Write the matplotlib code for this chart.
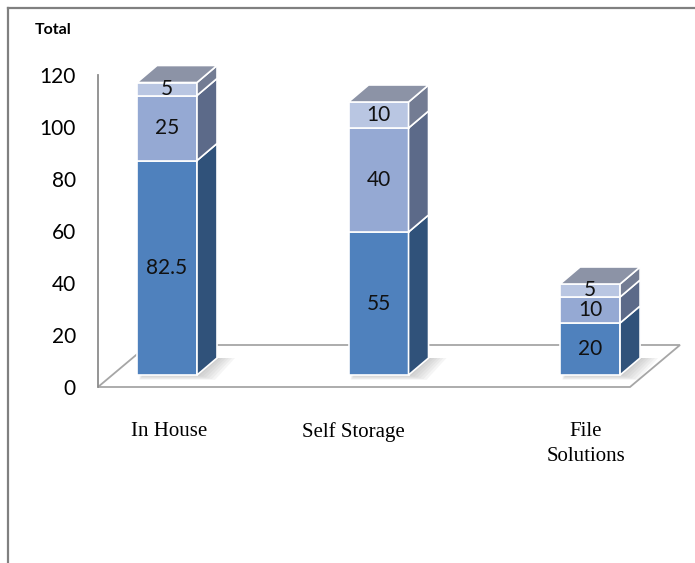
import matplotlib
matplotlib.use("Agg")
import matplotlib.pyplot as plt
from matplotlib.patches import Polygon, Rectangle
from matplotlib.lines import Line2D

# data
categories = ["In House", "Self Storage", "File\nSolutions"]
seg_bottom = [82.5, 55, 20]
seg_middle = [25, 40, 10]
seg_top = [5, 10, 5]
yticks = [0, 20, 40, 60, 80, 100, 120]

series = [seg_bottom, seg_middle, seg_top]
front_cols = ["#4F81BD", "#95A9D3", "#B9C6E2"]
side_cols = ["#30527A", "#5C6A89", "#737C93"]
top_col = "#8C93A6"

# geometry of the fake 3d look (in data units)
PX_X = 211.5          # pixels per category unit
PX_Y = 2.6            # pixels per value unit
FLOOR_DX, FLOOR_DY = 50 / PX_X, 42 / PX_Y
FRONT_DX, FRONT_DY = 14 / PX_X, 12 / PX_Y
BAR_DX, BAR_DY = 20 / PX_X, 17 / PX_Y
HALF_W = 30 / PX_X
label_shift = [0.01, -0.12, -0.02]

fig = plt.figure(figsize=(6.95, 5.63), dpi=100)
ax = fig.add_axes([98 / 695, 176 / 563, 532 / 695, 312 / 563])
x_lo, x_hi = -0.26, 2.255
ax.set_xlim(x_lo, x_hi)
ax.set_ylim(0, 120)

# floor
floor = Polygon([(x_lo, 0), (x_hi, 0), (x_hi + FLOOR_DX, FLOOR_DY),
                 (x_lo + FLOOR_DX, FLOOR_DY)], closed=True,
                facecolor="white", edgecolor="#A6A6A6", lw=1.3,
                clip_on=False, zorder=1)
ax.add_patch(floor)

for i, cat in enumerate(categories):
    x0 = i - HALF_W + FRONT_DX
    x1 = i + HALF_W + FRONT_DX
    base = FRONT_DY

    # soft shadow on the floor
    for k in range(6):
        ex = (k + 1) * 3 / PX_X
        ey = (k + 1) * 0.8 / PX_Y
        sh = Polygon([(x0 + 0.01, base - ey), (x1 + ex, base - ey),
                      (x1 + BAR_DX + ex, base + BAR_DY),
                      (x0 + BAR_DX, base + BAR_DY)], closed=True,
                     facecolor="#7F7F7F", edgecolor="none", alpha=0.07,
                     zorder=2, clip_on=False)
        ax.add_patch(sh)

    bottom = 0
    for s, vals in enumerate(series):
        v = vals[i]
        y0 = base + bottom
        y1 = y0 + v
        ax.add_patch(Rectangle((x0, y0), x1 - x0, v, facecolor=front_cols[s],
                               edgecolor="white", lw=1.2, zorder=3,
                               clip_on=False))
        ax.add_patch(Polygon([(x1, y0), (x1 + BAR_DX, y0 + BAR_DY),
                              (x1 + BAR_DX, y1 + BAR_DY), (x1, y1)],
                             closed=True, facecolor=side_cols[s],
                             edgecolor="white", lw=1.2, zorder=3,
                             clip_on=False))
        ax.text((x0 + x1) / 2, (y0 + y1) / 2, f"{v:g}", ha="center",
                va="center", fontsize=15, family="Lato", color="#111111",
                zorder=5)
        bottom += v

    ytop = base + bottom
    ax.add_patch(Polygon([(x0, ytop), (x1, ytop), (x1 + BAR_DX, ytop + BAR_DY),
                          (x0 + BAR_DX, ytop + BAR_DY)], closed=True,
                         facecolor=top_col, edgecolor="white", lw=1.2,
                         zorder=4, clip_on=False))

    ax.text(i + FRONT_DX + label_shift[i], -13.5, cat, ha="center", va="top",
            fontsize=15, family="Liberation Serif", linespacing=1.45,
            clip_on=False)

# axes styling
ax.set_yticks(yticks)
ax.set_xticks([])
ax.tick_params(axis="y", length=0, pad=16, labelsize=15)
for lab in ax.get_yticklabels():
    lab.set_family("Lato")
for name, sp in ax.spines.items():
    sp.set_visible(name == "left")
ax.spines["left"].set_color("#8C8C8C")
ax.spines["left"].set_linewidth(1.3)
ax.patch.set_visible(False)

fig.text(35 / 695, 1 - 30 / 563, "Total", ha="left", va="center",
         fontsize=11.5, fontweight="bold", family="Lato")

# outer frame (top and left only)
fig.add_artist(Line2D([8 / 695, 1], [1 - 8 / 563, 1 - 8 / 563],
                      color="#808080", lw=1.6))
fig.add_artist(Line2D([8 / 695, 8 / 695], [0, 1 - 8 / 563],
                      color="#808080", lw=1.6))

fig.savefig("out.png", dpi=100, facecolor="white")
